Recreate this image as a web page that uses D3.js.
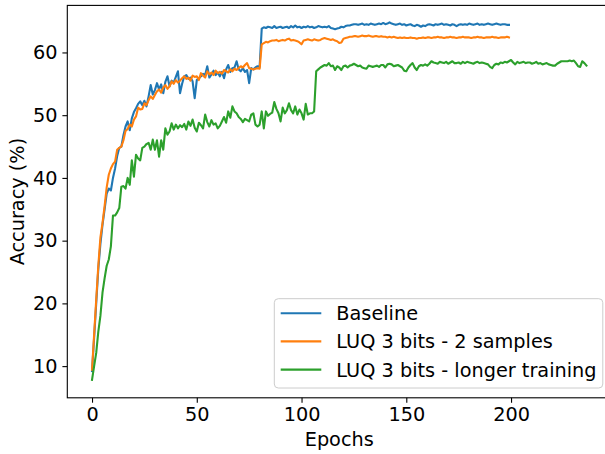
<!DOCTYPE html>
<html>
<head>
<meta charset="utf-8">
<script src="https://cdn.jsdelivr.net/npm/d3@7"></script>
<style>
  html, body { margin: 0; padding: 0; background: #fff; }
  svg { display: block; }
  text { font-family: "DejaVu Sans", sans-serif; fill: #000; }
</style>
</head>
<body>
<svg id="chart" width="605" height="454"></svg>
<script>
// ---------------- data ----------------
const seriesNames = ["Baseline", "LUQ 3 bits - 2 samples", "LUQ 3 bits - longer training"];
const seriesColors = ["#1f77b4", "#ff7f0e", "#2ca02c"];
const xTicks = [0, 50, 100, 150, 200];
const yTicks = [10, 20, 30, 40, 50, 60];

const baseline = [
  9.2, 14.5, 20.0, 25.5, 29.5, 32.5, 35.0, 37.5, 38.3, 38.0,
  40.0, 41.5, 43.5, 44.8, 45.0, 46.8, 48.2, 49.0, 47.6, 49.5,
  50.5, 51.1, 51.8, 52.2, 51.6, 52.3, 51.4, 53.0, 54.8, 53.3,
  54.0, 55.1, 54.1, 54.9, 53.5, 55.3, 56.2, 54.6, 55.5, 55.2,
  56.1, 57.0, 53.5, 55.0, 56.2, 56.4, 55.8, 56.0, 55.4, 52.7,
  55.6, 55.9, 56.2, 56.6, 56.4, 57.8, 56.0, 56.5, 57.1, 56.4,
  56.8, 56.2, 56.9, 55.9, 57.3, 58.0, 56.9, 57.5, 57.6, 58.6,
  57.3, 57.0, 57.5, 56.9, 57.2, 55.1, 57.5, 57.3, 57.6, 57.8,
  57.7, 63.8, 64.0, 63.9, 64.1, 64.0, 63.9, 64.2, 63.9, 64.0,
  64.1, 63.9, 64.0, 64.1, 63.9, 64.2, 64.0, 64.3, 64.0, 64.1,
  63.9, 64.1, 64.0, 64.2, 64.0, 64.1, 63.9, 64.0, 64.2, 64.1,
  64.0, 64.1, 64.0, 64.2, 63.9, 63.8, 63.7, 63.8, 63.9, 64.1,
  64.0, 64.2, 64.3, 64.3, 64.4, 64.5, 64.5, 64.4, 64.5, 64.6,
  64.4, 64.5, 64.4, 64.6, 64.5, 64.4, 64.5, 64.6, 64.5, 64.7,
  64.5, 64.6, 64.8, 64.6, 64.5, 64.4, 64.5, 64.6, 64.4, 64.5,
  64.3, 64.4, 64.5, 64.3, 64.2, 64.4, 64.3, 64.1, 64.3, 64.2,
  64.4, 64.5, 64.4, 64.3, 64.5, 64.4, 64.5, 64.6, 64.4, 64.5,
  64.4, 64.3, 64.5, 64.4, 64.2, 64.4, 64.5, 64.4, 64.5, 64.4,
  64.6, 64.5, 64.4, 64.5, 64.6, 64.4, 64.5, 64.4, 64.5, 64.6,
  64.5, 64.4, 64.5, 64.6, 64.5, 64.4, 64.5, 64.5, 64.4, 64.4
];

const luqSamples = [
  9.4, 15.0, 20.6, 26.0, 30.5, 32.8, 35.5, 38.5, 40.5, 41.5,
  42.2, 42.6, 44.5, 44.8, 45.0, 46.0, 47.5, 47.8, 48.5, 48.2,
  49.3, 49.8, 51.2, 50.9, 51.0, 51.9, 51.6, 52.4, 53.0, 52.6,
  53.2, 53.8, 54.1, 53.6, 54.4, 54.8, 54.2, 54.6, 55.4, 55.0,
  55.6, 55.2, 55.5, 55.9, 56.2, 55.8, 56.0, 55.5, 56.3, 56.1,
  56.2, 55.6, 56.7, 56.3, 56.0, 57.0, 56.5, 56.8, 56.4, 57.1,
  56.7, 56.9, 56.6, 57.2, 57.0, 56.8, 57.3, 57.0, 57.4, 57.2,
  57.5, 57.8, 57.6, 58.0, 58.3, 57.5, 57.4, 57.3, 57.4, 57.5,
  57.4, 61.3, 61.5, 61.7, 61.6, 61.8, 61.9, 61.9, 62.0, 61.8,
  61.9, 62.0, 61.9, 62.1, 62.2, 61.9, 62.0, 61.9, 61.8, 61.6,
  61.3, 61.9, 62.0, 62.1, 62.0, 61.9, 62.1, 62.0, 61.9, 62.0,
  62.2, 62.3, 62.2, 62.1, 62.0, 62.1, 61.9, 61.8, 61.5, 61.6,
  62.2, 62.3, 62.4, 62.5, 62.5, 62.6, 62.6, 62.5, 62.6, 62.7,
  62.6, 62.6, 62.7, 62.6, 62.5, 62.6, 62.6, 62.5, 62.6, 62.5,
  62.5, 62.4, 62.5, 62.4, 62.5, 62.4, 62.3, 62.4, 62.3, 62.4,
  62.3, 62.3, 62.4, 62.3, 62.3, 62.2, 62.3, 62.3, 62.4, 62.3,
  62.4, 62.4, 62.3, 62.4, 62.4, 62.5, 62.4, 62.4, 62.3, 62.4,
  62.4, 62.5, 62.4, 62.4, 62.3, 62.4, 62.4, 62.5, 62.4, 62.4,
  62.4, 62.3, 62.4, 62.4, 62.5, 62.4, 62.4, 62.3, 62.4, 62.4,
  62.4, 62.5, 62.4, 62.4, 62.3, 62.4, 62.4, 62.4, 62.5, 62.4
];

const luqLonger = [
  7.8, 10.0, 12.1, 15.5, 18.0, 21.7, 24.0, 26.0, 27.0, 29.1,
  34.0, 34.0, 34.5, 35.2, 38.6, 38.7, 38.3, 40.0, 38.9, 42.8,
  40.2, 43.7, 43.1, 42.8, 44.8, 45.0, 45.4, 45.6, 44.5, 46.1,
  44.5, 46.0, 43.4, 46.0, 44.5, 47.9, 46.9, 47.4, 48.7, 47.7,
  48.5, 47.9, 48.4, 48.1, 48.6, 47.7, 49.0, 48.3, 49.3, 48.0,
  47.4, 48.8, 48.4, 47.9, 50.1, 48.9, 48.2, 49.2, 48.5, 48.7,
  47.9, 48.3, 49.0, 49.7, 48.8, 50.6, 49.6, 51.4, 50.6, 50.3,
  49.7, 49.4, 48.9, 49.4, 49.2, 49.0, 50.1, 50.3, 48.5, 48.2,
  48.5, 50.6, 47.9, 50.6, 49.9, 50.2, 50.4, 52.1, 51.0, 50.3,
  49.0, 51.2, 50.3, 50.8, 51.9, 50.8, 50.3, 51.4, 50.1, 50.9,
  50.3, 49.3, 51.8, 50.1, 50.3, 50.3, 50.6, 57.0, 57.3, 57.6,
  57.8, 58.0, 57.9, 58.3, 57.8, 57.9, 57.2, 57.8, 57.6, 57.2,
  57.8, 57.9, 57.6, 57.9, 58.0, 58.2, 58.0, 57.8, 57.9, 57.6,
  57.5, 57.4, 57.9, 57.8, 57.7, 57.8, 57.9, 57.7, 58.0, 58.0,
  57.6, 58.1, 58.2, 58.1, 57.8, 57.9, 58.0, 57.8, 57.6, 57.1,
  57.0, 57.6, 58.0, 58.3, 57.6, 57.2, 57.8, 58.0, 57.9, 58.1,
  57.9, 58.2, 58.6, 58.4, 58.3, 58.2, 58.5, 58.4, 58.3, 58.5,
  58.2, 58.4, 58.6, 58.3, 58.3, 58.4, 58.2, 58.5, 58.3, 58.5,
  58.4, 58.3, 58.2, 58.4, 58.5, 58.3, 58.4, 58.3, 58.2, 58.1,
  57.7, 57.5, 58.0, 58.2, 58.1, 58.4, 58.3, 58.5, 58.4, 58.6,
  58.8, 58.4, 58.1, 58.5, 58.3, 58.4, 58.5, 58.3, 58.4, 58.4,
  58.2, 58.3, 58.5, 58.2, 58.3, 58.1, 58.2, 58.3, 58.1, 58.0,
  57.9, 57.9, 58.2, 58.4, 58.6, 58.6, 58.6, 58.6, 58.7, 58.6,
  58.7, 58.3, 57.8, 57.7, 58.6, 58.3, 57.9
];

const allSeries = [baseline, luqSamples, luqLonger];

// ---------------- layout ----------------
const svg = d3.select("#chart");
const plot = { left: 67.3, right: 611.2, top: 5.4, bottom: 397.8 };
const fontSize = 19.3;

const x = d3.scaleLinear().domain([-11.8, 247.8]).range([plot.left, plot.right]);
const y = d3.scaleLinear().domain([4.95, 67.5]).range([plot.bottom, plot.top]);

svg.append("defs").append("clipPath").attr("id", "clip")
  .append("rect").attr("x", plot.left).attr("y", plot.top)
  .attr("width", plot.right - plot.left).attr("height", plot.bottom - plot.top);

const line = d3.line().x((d, i) => x(i)).y(d => y(d));

const lines = svg.append("g").attr("clip-path", "url(#clip)");
allSeries.forEach((s, k) => {
  lines.append("path")
    .datum(s)
    .attr("d", line)
    .attr("fill", "none")
    .attr("stroke", seriesColors[k])
    .attr("stroke-width", 2.1)
    .attr("stroke-linejoin", "round")
    .attr("stroke-linecap", "square");
});

const xAxis = d3.axisBottom(x).tickValues(xTicks).tickSize(4.9).tickPadding(4.9).tickFormat(d3.format("d"));
const yAxis = d3.axisLeft(y).tickValues(yTicks).tickSize(4.9).tickPadding(4.9).tickFormat(d3.format("d"));

const gx = svg.append("g").attr("transform", `translate(0,${plot.bottom})`).call(xAxis);
const gy = svg.append("g").attr("transform", `translate(${plot.left},0)`).call(yAxis);
[gx, gy].forEach(g => {
  g.select(".domain").remove();
  g.selectAll(".tick line").attr("stroke", "#000").attr("stroke-width", 1.1);
  g.selectAll(".tick text").attr("font-size", fontSize).attr("font-family", "DejaVu Sans").attr("fill", "#000");
});

svg.append("rect")
  .attr("x", plot.left).attr("y", plot.top)
  .attr("width", plot.right - plot.left).attr("height", plot.bottom - plot.top)
  .attr("fill", "none").attr("stroke", "#000").attr("stroke-width", 1.1);

svg.append("text")
  .attr("x", (plot.left + plot.right) / 2).attr("y", 445.5)
  .attr("text-anchor", "middle").attr("font-size", fontSize)
  .text("Epochs");

svg.append("text")
  .attr("transform", `translate(24,${(plot.top + plot.bottom) / 2}) rotate(-90)`)
  .attr("text-anchor", "middle").attr("font-size", fontSize)
  .text("Accuracy (%)");

const lg = svg.append("g");
lg.append("rect")
  .attr("x", 274.3).attr("y", 298.7).attr("width", 328.5).attr("height", 89.3)
  .attr("rx", 4).attr("ry", 4)
  .attr("fill", "#fff").attr("fill-opacity", 0.8)
  .attr("stroke", "#cccccc").attr("stroke-width", 1);
const rowY = [313.3, 341.4, 369.6];
seriesNames.forEach((name, k) => {
  lg.append("line")
    .attr("x1", 280.7).attr("x2", 321.3)
    .attr("y1", rowY[k]).attr("y2", rowY[k])
    .attr("stroke", seriesColors[k]).attr("stroke-width", 2.1);
  lg.append("text")
    .attr("x", 336.3).attr("y", rowY[k]).attr("dy", "0.36em")
    .attr("font-size", fontSize)
    .text(name);
});
</script>
</body>
</html>
